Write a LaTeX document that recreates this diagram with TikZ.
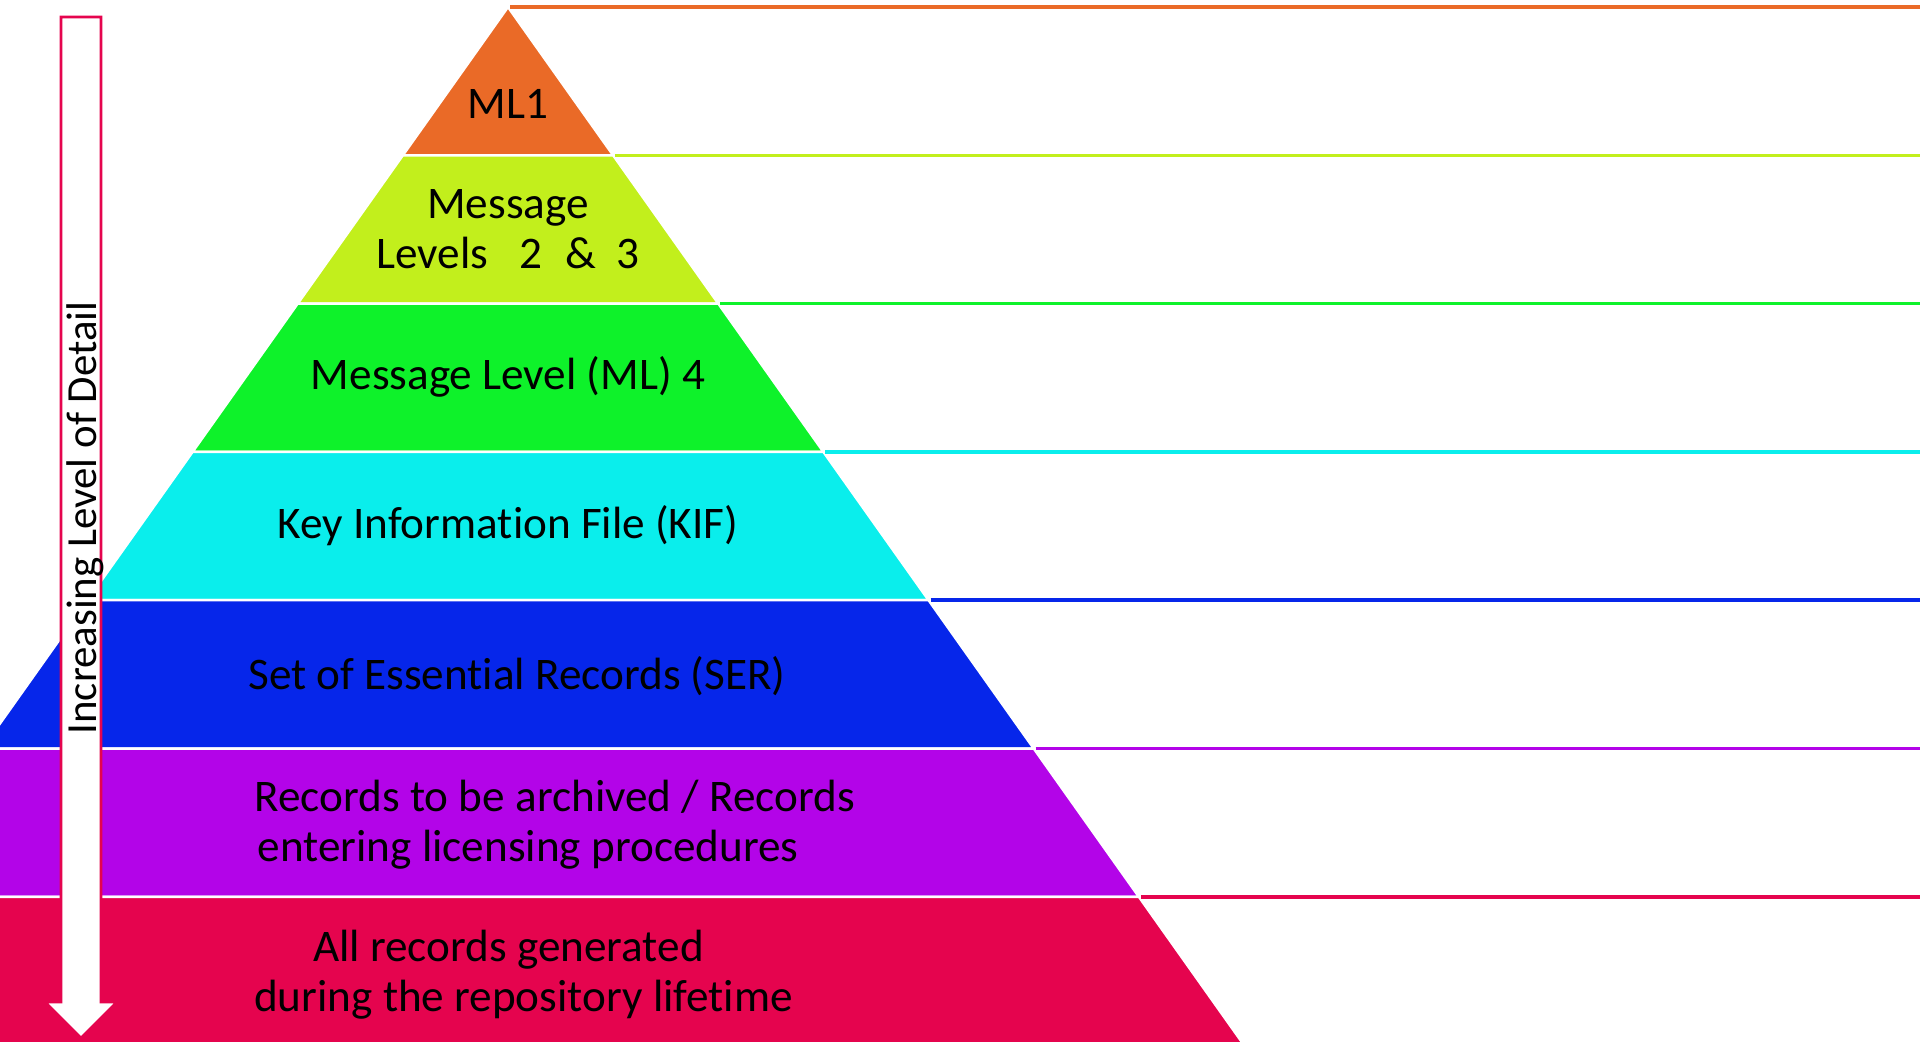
\documentclass[tikz,border=0pt]{standalone}
\usepackage{fontspec}
\setmainfont[Ligatures=NoCommon]{Carlito}
\usepackage{xcolor}
\usepackage{tikz}
\definecolor{LevelOne}{RGB}{234,106,39}
\definecolor{LevelTwo}{RGB}{194,239,28}
\definecolor{LevelFour}{RGB}{14,242,42}
\definecolor{KifCyan}{RGB}{10,238,236}
\definecolor{SerBlue}{RGB}{6,38,234}
\definecolor{ArchPurple}{RGB}{179,4,232}
\definecolor{AllCrimson}{RGB}{229,4,78}
\def\apx{508}
\def\apy{7}
\def\bandh{148.3}
\def\pslope{0.709}
\tikzset{
  band/.style={draw=white, line width=0.7pt},
  tie/.style={line width=1pt},
  lvl/.style={font=\fontsize{12.85}{14.2}\selectfont, align=center, inner sep=0pt},
  detailarrow/.style={draw=AllCrimson, line width=0.8pt, fill=white},
}

\begin{document}
\begin{tikzpicture}
  \begin{scope}[x=0.01cm, y=-0.01cm]
    \useasboundingbox (0,0) rectangle (1920,1041);
    \clip (0,0) rectangle (1920,1041);
    % seven slices of the pyramid, each with its line out to the right
    \foreach \k/\c in {0/LevelOne,1/LevelTwo,2/LevelFour,3/KifCyan,4/SerBlue,5/ArchPurple,6/AllCrimson} {
      \pgfmathsetmacro\ya{\apy+\bandh*\k}
      \pgfmathsetmacro\yb{\ya+\bandh}
      \pgfmathsetmacro\da{\pslope*(\ya-\apy)}
      \pgfmathsetmacro\db{\pslope*(\yb-\apy)}
      \filldraw[fill=\c, band] ({\apx-\da},\ya) -- ({\apx+\da},\ya) -- ({\apx+\db},\yb) -- ({\apx-\db},\yb) -- cycle;
      \draw[\c, tie] ({\apx+\da+2},\ya) -- (1920,\ya);
    }
    % labels
    \node[lvl] (ml1) at (508,104) {ML1};
    \node[lvl] (ml23) at (508,229) {Message\\Levels\hspace{0.7em}2\hspace{0.5em}\&\hspace{0.45em}3};
    \node[lvl] (ml4) at (508,377) {Message Level (ML) 4};
    \node[lvl] (kif) at (508,526) {Key Information File (KIF)};
    \node[lvl] (ser) at (517,676) {Set of Essential Records (SER)};
    \node[lvl, align=left, anchor=west] (arch) at (254,825) {Records to be archived / Records\\\hspace*{0.07em}entering licensing procedures};
    \node[lvl] (all) at (516,975) {All records generated\hspace*{0.15cm}\\\hspace*{0.15cm}during the repository lifetime};
    % the arrow down the left side
    \draw[detailarrow] (61,17) -- (101,17) -- (101,1002) -- (117,1002) -- (81,1038) -- (45,1002) -- (61,1002) -- cycle;
    \node[lvl, font=\fontsize{12.2}{14}\selectfont, rotate=90, anchor=base] (detail) at (96,518) {Increasing Level of Detail};
  \end{scope}
\end{tikzpicture}
\end{document}
